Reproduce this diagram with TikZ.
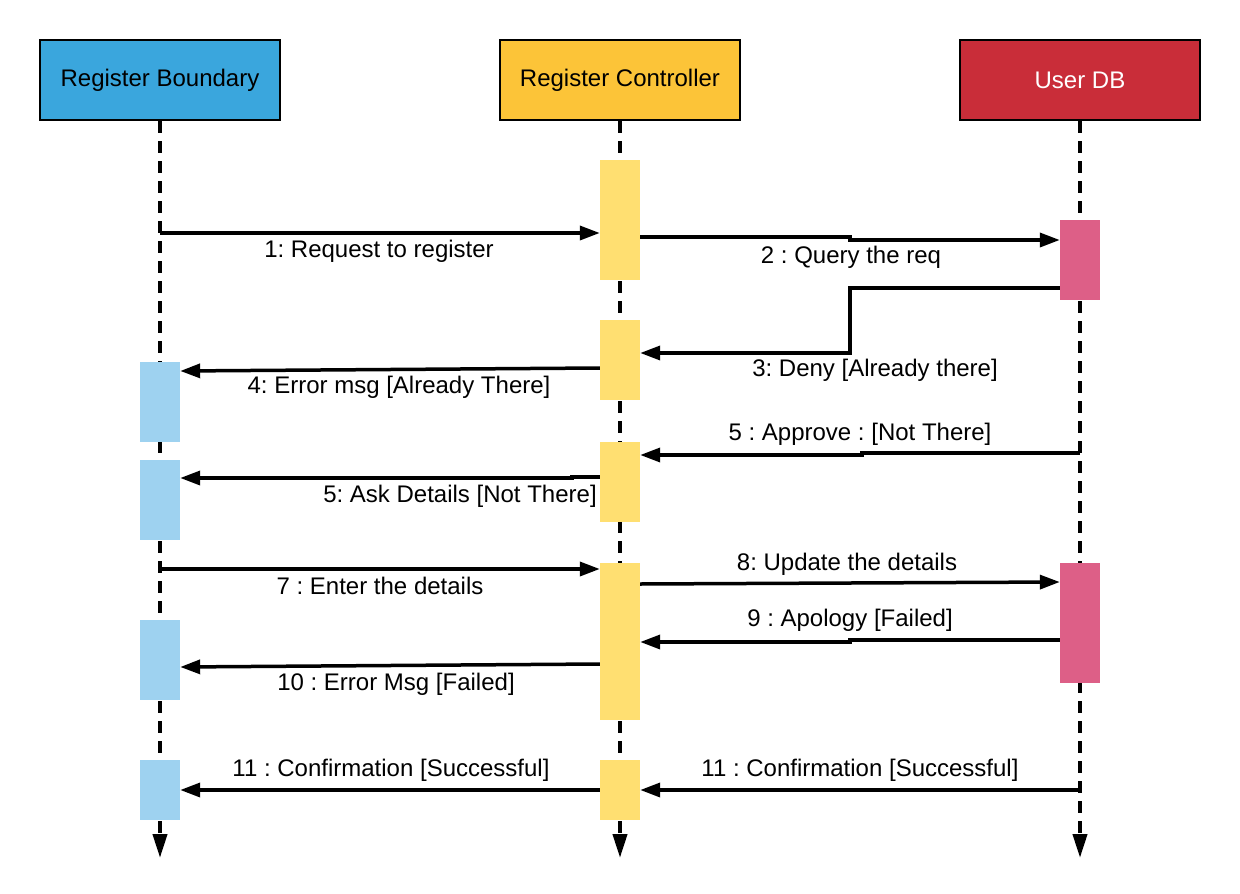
\documentclass[tikz,border=0pt]{standalone}
\usepackage{fontspec}
\setmainfont{Liberation Sans}
\usetikzlibrary{arrows.meta}
\definecolor{hblue}{RGB}{58,166,221}
\definecolor{hyellow}{RGB}{252,196,56}
\definecolor{hred}{RGB}{201,45,57}
\definecolor{ablue}{RGB}{158,210,240}
\definecolor{ayellow}{RGB}{255,223,113}
\definecolor{apink}{RGB}{221,95,135}
\begin{document}
\frenchspacing
\begin{tikzpicture}[x=1pt,y=-1pt,
  font=\fontsize{24}{28}\selectfont,
  head/.style={draw=black,line width=2pt,minimum width=240pt,minimum height=80pt,inner sep=0pt},
  life/.style={line width=4pt,dash pattern=on 12pt off 8pt,-{Triangle[length=24pt,width=14pt]}},
  actb/.style={fill=ablue,minimum width=40pt,inner sep=0pt},
  actc/.style={fill=ayellow,minimum width=40pt,inner sep=0pt},
  actd/.style={fill=apink,minimum width=40pt,inner sep=0pt},
  msg/.style={line width=3.5pt,-{Triangle[length=20pt,width=14pt]}},
  lbl/.style={inner sep=0pt}]
\useasboundingbox (0,0) rectangle (1240,894);
% headers
\node[head,fill=hblue] (rb) at (160,80) {Register Boundary};
\node[head,fill=hyellow] (rc) at (620,80) {Register Controller};
\node[head,fill=hred,text=white] (db) at (1080,80) {User DB};
% lifelines
\coordinate (eb) at (160,858);
\coordinate (ec) at (620,858);
\coordinate (ed) at (1080,858);
\draw[life] (rb.south) -- (eb);
\draw[life] (rc.south) -- (ec);
\draw[life] (db.south) -- (ed);
% activations controller
\node[actc,minimum height=120pt] (c1) at (620,220) {};
\node[actc,minimum height=80pt] (c2) at (620,360) {};
\node[actc,minimum height=80pt] (c3) at (620,482) {};
\node[actc,minimum height=157pt] (c4) at (620,641.5) {};
\node[actc,minimum height=60pt] (c5) at (620,790) {};
% activations boundary
\node[actb,minimum height=80pt] (b1) at (160,402) {};
\node[actb,minimum height=80pt] (b2) at (160,500) {};
\node[actb,minimum height=80pt] (b3) at (160,660) {};
\node[actb,minimum height=60pt] (b4) at (160,790) {};
% activations db
\node[actd,minimum height=80pt] (d1) at (1080,260) {};
\node[actd,minimum height=120pt] (d2) at (1080,623) {};
% messages
\draw[msg] (rb.south |- 0,233) -- (c1.west |- 0,233);
\node[lbl] (l1) at (379,251) {1: Request to register};
\draw[msg] (c1.east |- 0,237) -- (850,237) -- (850,240) -- (d1.west |- 0,240);
\node[lbl] (l2) at (851,257) {2 : Query the req};
\draw[msg] (d1.west |- 0,288) -- (850,288) -- (850,353) -- (c2.east |- 0,353);
\node[lbl] (l3) at (875,370) {3: Deny [Already there]};
\draw[msg] (c2.west |- 0,368) -- (b1.east |- 0,371);
\node[lbl] (l4) at (399,387) {4: Error msg [Already There]};
\draw[msg] (db.south |- 0,453) -- (862,453) -- (862,455) -- (c3.east |- 0,455);
\node[lbl] (l5) at (860,434) {5 : Approve : [Not There]};
\draw[msg] (c3.west |- 0,477) -- (572,477) -- (572,478) -- (b2.east |- 0,478);
\node[lbl] (l6) at (460,496) {5: Ask Details [Not There]};
\draw[msg] (rb.south |- 0,569) -- (c4.west |- 0,569);
\node[lbl] (l7) at (380,586) {7 : Enter the details};
\draw[msg] (c4.east |- 0,584) -- (d2.west |- 0,582);
\node[lbl] (l8) at (847,564) {8: Update the details};
\draw[msg] (d2.west |- 0,640) -- (850,640) -- (850,642) -- (c4.east |- 0,642);
\node[lbl] (l9) at (850,620) {9 : Apology [Failed]};
\draw[msg] (c4.west |- 0,664) -- (b3.east |- 0,667);
\node[lbl] (l10) at (396,684) {10 : Error Msg [Failed]};
\draw[msg] (c5.west |- 0,790) -- (b4.east |- 0,790);
\node[lbl] (l11) at (391,770) {11 : Confirmation [Successful]};
\draw[msg] (db.south |- 0,790) -- (c5.east |- 0,790);
\node[lbl] (l12) at (860,770) {11 : Confirmation [Successful]};
\end{tikzpicture}
\end{document}
